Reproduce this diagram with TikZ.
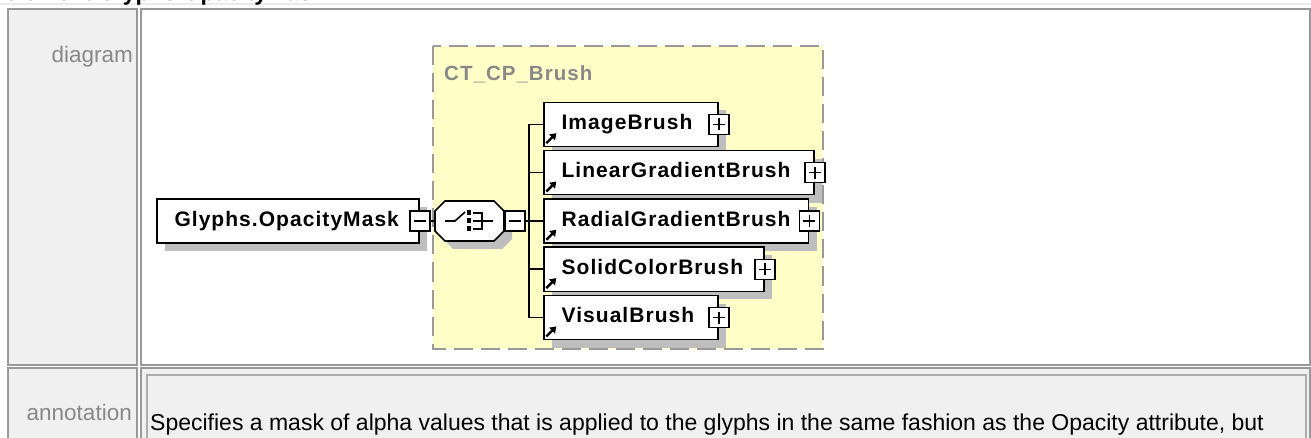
\documentclass[tikz,border=0pt]{standalone}
\usepackage{fontspec}
\setmainfont{Liberation Sans}
\newfontfamily\boxfont[LetterSpace=5]{Liberation Sans}
\usetikzlibrary{arrows.meta,shadows}
\definecolor{cellgray}{HTML}{F0F0F0}
\definecolor{rulegray}{HTML}{999999}
\definecolor{labgray}{HTML}{888888}
\definecolor{bandgray}{HTML}{EBEBEB}
\definecolor{grpyellow}{HTML}{FFFFC8}
\definecolor{shadegray}{HTML}{BEBEBE}
\tikzset{cell/.style={draw=rulegray,line width=2pt,fill=cellgray},
lab/.style={text=labgray,inner sep=0pt,font=\fontsize{22.5}{27}\selectfont},
wire/.style={line width=1.6pt},
boxshadow/.style={drop shadow={shadow xshift=8pt,shadow yshift=-8pt,fill=shadegray,opacity=1}},
elem/.style={draw,line width=1.6pt,fill=white,boxshadow,minimum height=44pt,inner xsep=17.5pt,inner ysep=0pt,text height=15pt,text depth=4.5pt,align=left,font=\boxfont\bfseries\fontsize{21}{25}\selectfont},
sign/.style={draw,line width=1.4pt,fill=white,minimum size=20pt,inner sep=0pt},
minus/.style={sign,path picture={\draw[line width=1.4pt]([xshift=4pt]path picture bounding box.west)--([xshift=-4pt]path picture bounding box.east);}},
plus/.style={sign,path picture={\draw[line width=1.4pt]([xshift=4pt]path picture bounding box.west)--([xshift=-4pt]path picture bounding box.east)([yshift=-4pt]path picture bounding box.north)--([yshift=4pt]path picture bounding box.south);}}}
\begin{document}
\begin{tikzpicture}[x=1pt,y=-1pt]
\useasboundingbox(0,0)rectangle(1311,438);\clip(0,0)rectangle(1311,438);
\fill[white](0,0)rectangle(1311,438);\fill[bandgray](0,3)rectangle(1311,5.5);
\node[anchor=base west,inner sep=0pt,font=\bfseries\fontsize{23}{28}\selectfont](ttl)at(5,0.5){element Glyphs.OpacityMask};
\draw[cell](8,9.5)rectangle(136.5,364.5);\draw[cell,fill=white](140.5,9.5)rectangle(1309.5,364.5);
\draw[cell](8,367.5)rectangle(136.5,450);\draw[cell](140.5,367.5)rectangle(1309.5,450);\draw[cell,draw=rulegray!80](146.5,374.5)rectangle(1305.5,450);
\node[lab,anchor=base east](dg)at(133,62.7){diagram};\node[lab,anchor=base east](an)at(132,420){annotation};
\node[anchor=base west,inner sep=0pt,font=\fontsize{23}{27}\selectfont](txt)at(150,430){Specifies a mask of alpha values that is applied to the glyphs in the same fashion as the Opacity attribute, but};
\draw[rulegray,line width=2pt,dash pattern=on 19pt off 8pt,fill=grpyellow](432.5,46.5)rectangle(822.5,349);
\node[anchor=base west,inner sep=0pt,text=labgray,font=\boxfont\bfseries\fontsize{20.5}{24}\selectfont](grp)at(444,80.7){CT\_CP\_Brush};
\node[elem,text width=227pt](gom)at(288,221){\mbox{Glyphs.OpacityMask}};\node[minus](gomm)at(gom.east){};
\node[minimum width=69pt,minimum height=40pt,inner sep=0pt](chc)at(469.5,221){};
\begin{scope}[shift={(chc.center)},line width=1.6pt]
\draw[fill=white,boxshadow](-34.5,-10)--(-24.5,-20)--(24.5,-20)--(34.5,-10)--(34.5,10)--(24.5,20)--(-24.5,20)--(-34.5,10)--cycle;
\draw(-24.5,0)--(-14.5,0)--(-4.5,-9);\foreach \y in{-8,0,8}\fill(-2.8,\y-2.5)rectangle(1.2,\y+2.5);
\draw(3.8,-8)--(12.2,-8)--(12.2,8)--(3.8,8)(3.8,0)--(23.8,0);
\end{scope}
\node[minus,anchor=west](chcm)at(chc.east){};
\coordinate(fork)at(529,221);
\foreach \n/\tw/\y/\t in{ib/139/124.4/ImageBrush,lb/235/172.7/LinearGradientBrush,rb/229.4/221/RadialGradientBrush,sb/185/269.3/SolidColorBrush,vb/139/317.6/VisualBrush}{\node[elem,text width=\tw pt,anchor=west](\n)at(543.3,\y){\mbox{\t}};\node[plus](\n p)at(\n.east){};\draw[line width=2.4pt,-{Triangle[length=6pt,width=8pt]}]([shift={(3,-4)}]\n.south west)--++(10,-10);}
\draw[wire](gomm.east)--(chc.west);\draw[wire](chcm.east)--(fork);\draw[wire](fork|-ib.west)--(fork|-vb.west);
\foreach \n in{ib,lb,rb,sb,vb}\draw[wire](fork|-\n.west)--(\n.west);
\end{tikzpicture}
\end{document}
